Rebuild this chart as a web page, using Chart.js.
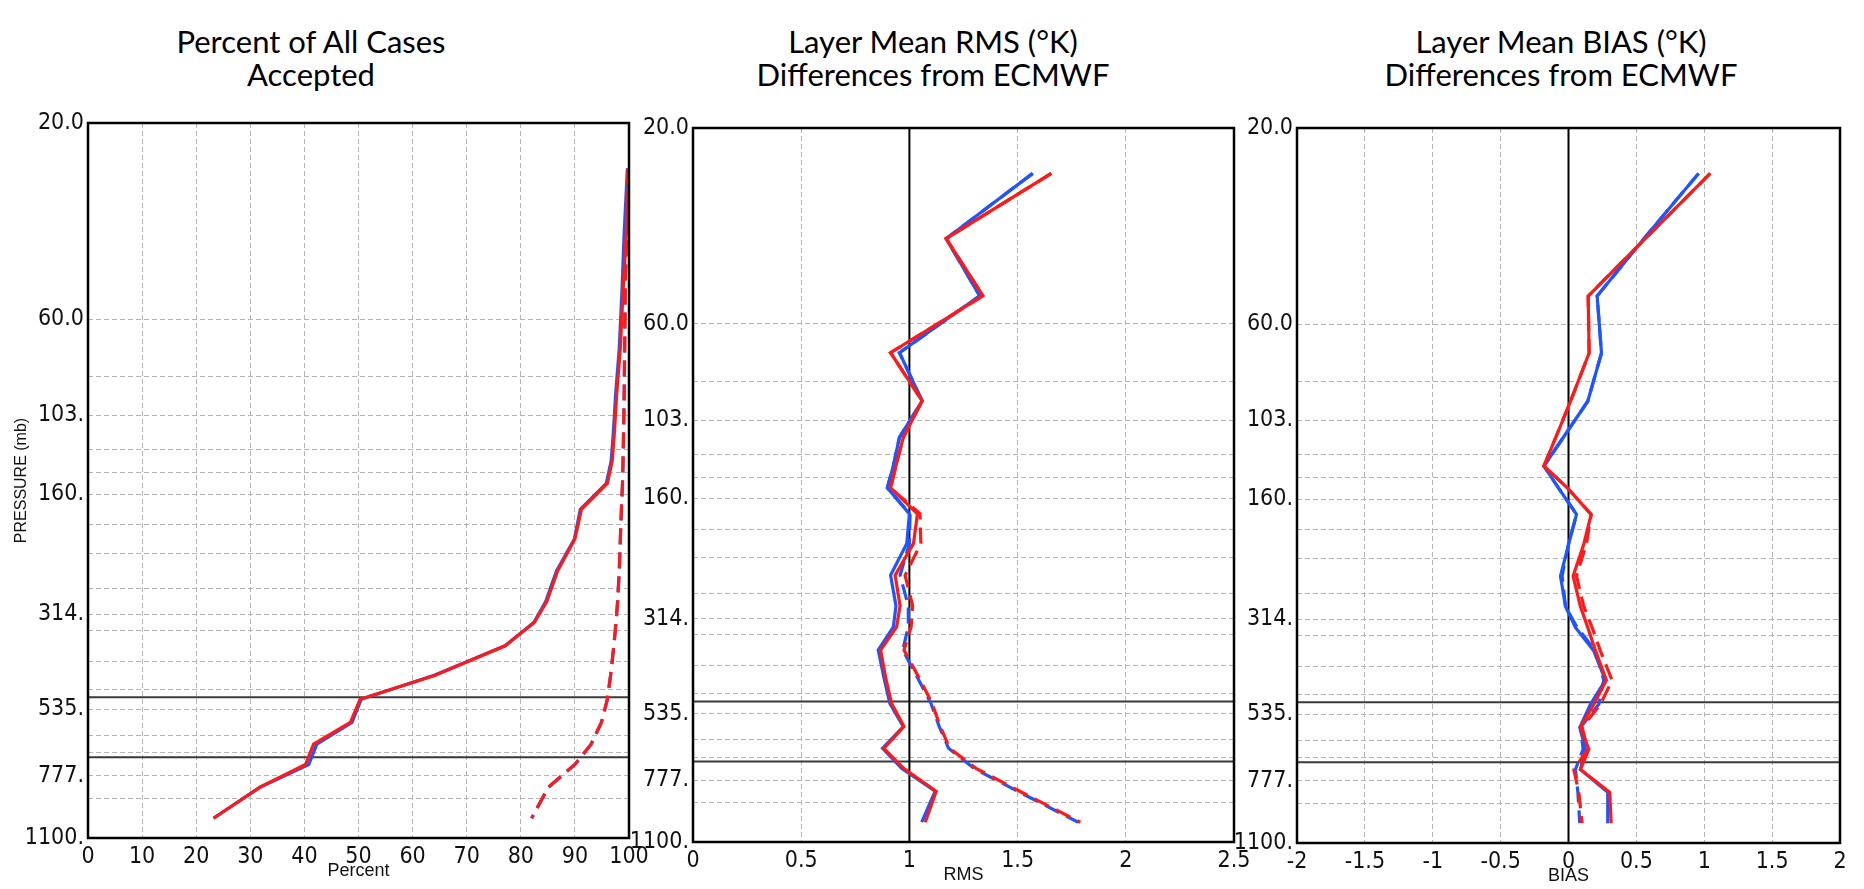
<!DOCTYPE html>
<html>
<head>
<meta charset="utf-8">
<title>Layer profiles vs ECMWF</title>
<script src="https://cdn.jsdelivr.net/npm/chart.js@4.4.1/dist/chart.umd.min.js"></script>
<style>
    body {
        margin: 0;
        width: 1864px;
        height: 889px;
        overflow: hidden;
        position: relative;
        background: #fff;
    }
    canvas {
        position: absolute;
        left: 0;
        top: 0;
    }
    .title {
        position: absolute;
        top: 25px;
        transform: translateX(-50%);
        text-align: center;
        white-space: nowrap;
        font-family: Lato, 'Open Sans', sans-serif;
        font-size: 31px;
        line-height: 33px;
        color: #000;
    }
</style>
</head>
<body>
<div class="title" style="left:311px">Percent of All Cases<br>Accepted</div>
<div class="title" style="left:933px">Layer Mean RMS (°K)<br>Differences from ECMWF</div>
<div class="title" style="left:1561px">Layer Mean BIAS (°K)<br>Differences from ECMWF</div>
<canvas id="percentChart" width="1864" height="889"></canvas>
<canvas id="rmsChart" width="1864" height="889"></canvas>
<canvas id="biasChart" width="1864" height="889"></canvas>
<script>
// Layer mid-point pressures (mb), one per profile value
const pressureLevels = [25.8, 37.2, 51.3, 70.6, 92.5, 113.5, 133.0, 150.7, 174.4, 205.8, 246.3,
    292.3, 328.7, 374.7, 441.7, 505.7, 575.5, 650.2, 728.5, 827.4, 984.5];

// Layer boundaries (dashed grid) and the labelled ones
const gridPressures = [20, 60, 83, 103, 125, 142, 160, 190, 223, 272, 314, 344, 408, 478, 535, 619, 683, 777, 881, 1100];
const labelledPressures = [20, 60, 103, 160, 314, 535, 777, 1100];
const pressureLabels = ['20.0', '60.0', '103.', '160.', '314.', '535.', '777.', '1100.'];
const refPressures = [500, 700];

// Percent of cases accepted (solid) and the all-cases curve (dashed)
const percentBlue = [99.7, 99.1, 98.7, 98.2, 97.5, 97.1, 96.7, 95.8, 91.0, 89.9, 86.6, 84.6, 82.4, 77.1, 64.0, 50.5, 48.8, 42.3, 40.8, 31.8, 23.2];
const percentRed = [100.0, 99.5, 98.9, 98.4, 97.7, 97.3, 96.9, 96.0, 91.2, 90.0, 86.8, 84.8, 82.5, 77.1, 64.2, 50.3, 48.5, 41.7, 40.2, 31.8, 23.2];
const percentAllBlue = [99.8, 99.5, 99.3, 99.2, 99.1, 99.0, 98.9, 98.8, 98.6, 98.4, 98.2, 97.9, 97.6, 97.2, 96.6, 96.0, 94.9, 93.0, 90.0, 85.1, 82.0];
const percentAllRed = [99.8, 99.5, 99.3, 99.2, 99.1, 99.0, 98.9, 98.8, 98.6, 98.4, 98.2, 97.9, 97.6, 97.2, 96.6, 96.0, 94.9, 93.0, 90.0, 85.1, 82.0];

// Layer mean RMS differences
const rmsBlue = [1.570, 1.170, 1.325, 0.954, 1.059, 0.954, 0.926, 0.898, 1.000, 0.988, 0.913, 0.938, 0.926, 0.856, 0.884, 0.910, 0.972, 0.876, 0.965, 1.119, 1.057];
const rmsRed = [1.656, 1.170, 1.340, 0.913, 1.059, 0.972, 0.938, 0.913, 1.037, 1.019, 0.934, 0.957, 0.941, 0.867, 0.892, 0.918, 0.975, 0.882, 0.975, 1.124, 1.073];
const rmsAllBlue = [1.570, 1.170, 1.325, 0.954, 1.059, 0.954, 0.926, 0.898, 1.003, 1.000, 0.957, 0.995, 0.995, 0.969, 1.042, 1.100, 1.138, 1.181, 1.300, 1.500, 1.780];
const rmsAllRed = [1.656, 1.170, 1.340, 0.913, 1.059, 0.972, 0.938, 0.913, 1.049, 1.053, 0.980, 1.015, 1.008, 0.975, 1.049, 1.105, 1.143, 1.186, 1.310, 1.510, 1.790];

// Layer mean BIAS differences
const biasBlue = [0.958, 0.555, 0.211, 0.243, 0.142, -0.040, -0.181, -0.072, 0.059, 0.002, -0.059, -0.022, 0.051, 0.186, 0.272, 0.162, 0.083, 0.125, 0.088, 0.289, 0.289];
const biasRed = [1.044, 0.565, 0.145, 0.152, 0.015, -0.095, -0.181, -0.005, 0.167, 0.113, 0.034, 0.088, 0.142, 0.199, 0.279, 0.186, 0.088, 0.150, 0.088, 0.304, 0.314];
const biasAllBlue = [0.958, 0.555, 0.211, 0.243, 0.142, -0.040, -0.181, -0.072, 0.059, 0.000, -0.047, -0.022, 0.064, 0.199, 0.260, 0.223, 0.088, 0.108, 0.051, 0.069, 0.083];
const biasAllRed = [1.044, 0.565, 0.145, 0.152, 0.015, -0.095, -0.181, -0.005, 0.167, 0.132, 0.059, 0.113, 0.174, 0.235, 0.321, 0.235, 0.100, 0.142, 0.039, 0.076, 0.100];

// x axis ranges: [min, max, step]
const percentRange = [0, 100, 10];
const rmsRange = [0, 2.5, 0.5];
const biasRange = [-2, 2, 0.5];

const BLUE = '#1f55ff';
const RED = '#ff1a1a';
const GRID = '#b5b5b5';
const tickFont = { family: "'Liberation Sans Narrow', 'DejaVu Sans Condensed', 'Liberation Sans', sans-serif", size: 23 };
const axisTitleFont = { family: "'Liberation Sans Narrow', 'Liberation Sans', sans-serif", size: 18 };

// Frame box plus the solid reference lines
const refLinesPlugin = {
    id: 'refLines',
    beforeDatasetsDraw(chart, args, opts) {
        const { ctx, chartArea, scales } = chart;
        ctx.save();
        ctx.beginPath();
        ctx.rect(chartArea.left, chartArea.top, chartArea.width, chartArea.height);
        ctx.clip();
        ctx.strokeStyle = '#3a3a3a';
        ctx.lineWidth = 2;
        refPressures.forEach(p => {
            const y = scales.y.getPixelForValue(p);
            ctx.beginPath();
            ctx.moveTo(chartArea.left, y);
            ctx.lineTo(chartArea.right, y);
            ctx.stroke();
        });
        if (opts.xLine !== undefined) {
            const x = scales.x.getPixelForValue(opts.xLine);
            ctx.strokeStyle = '#000';
            ctx.beginPath();
            ctx.moveTo(x, chartArea.top);
            ctx.lineTo(x, chartArea.bottom);
            ctx.stroke();
        }
        ctx.restore();
    },
    afterDraw(chart) {
        const { ctx, chartArea } = chart;
        ctx.save();
        ctx.strokeStyle = '#000';
        ctx.lineWidth = 2.5;
        ctx.strokeRect(chartArea.left, chartArea.top, chartArea.width, chartArea.height);
        ctx.restore();
    }
};

function profile(values, color, dashed, order) {
    return {
        data: values.map((v, i) => ({ x: v, y: pressureLevels[i] })),
        borderColor: color,
        borderWidth: 3.2,
        borderDash: dashed ? [16, 8] : [],
        pointRadius: 0,
        tension: 0,
        fill: false,
        order: order
    };
}

function makePanel(id, box, range, xTitle, yTitle, xLine, series) {
    const yWidth = 76;
    const xHeight = 44;
    new Chart(document.getElementById(id), {
        type: 'line',
        data: {
            datasets: [
                profile(series[0], BLUE, false, 2),
                profile(series[1], RED, false, 0),
                profile(series[2], BLUE, true, 3),
                profile(series[3], RED, true, 1)
            ]
        },
        options: {
            responsive: false,
            animation: false,
            events: [],
            layout: {
                autoPadding: false,
                padding: {
                    left: box.left - yWidth,
                    right: 1864 - box.right,
                    top: box.top,
                    bottom: 889 - box.bottom - xHeight
                }
            },
            plugins: {
                legend: { display: false },
                tooltip: { enabled: false },
                refLines: { xLine: xLine }
            },
            scales: {
                x: {
                    type: 'linear',
                    min: range[0],
                    max: range[1],
                    afterFit: (scale) => { scale.height = xHeight; },
                    ticks: {
                        stepSize: range[2],
                        autoSkip: false,
                        maxRotation: 0,
                        padding: 5,
                        font: tickFont,
                        color: '#111',
                        // plain numbers: 1 not 1.0
                        callback: (value) => String(Number(value.toFixed(2)))
                    },
                    grid: { color: GRID, lineWidth: 1, drawTicks: false },
                    border: { display: false, dash: [5, 3] },
                    title: { display: true, text: xTitle, font: axisTitleFont, color: '#111', padding: 0 }
                },
                y: {
                    type: 'logarithmic',
                    reverse: true,
                    min: 20,
                    max: 1100,
                    afterFit: (scale) => { scale.width = yWidth; },
                    afterBuildTicks: (scale) => {
                        scale.ticks = gridPressures.map(v => ({ value: v }));
                    },
                    ticks: {
                        autoSkip: false,
                        padding: 4,
                        font: tickFont,
                        color: '#111',
                        callback: (value) => {
                            const i = labelledPressures.indexOf(value);
                            return i >= 0 ? pressureLabels[i] : '';
                        }
                    },
                    grid: { color: GRID, lineWidth: 1, drawTicks: false },
                    border: { display: false, dash: [5, 3] },
                    title: {
                        display: !!yTitle,
                        text: yTitle,
                        font: { family: "'Liberation Sans', sans-serif", size: 16 },
                        color: '#111',
                        padding: 0
                    }
                }
            }
        },
        plugins: [refLinesPlugin]
    });
}

makePanel('percentChart', { left: 88, right: 629, top: 123, bottom: 838 }, percentRange, 'Percent', 'PRESSURE (mb)', undefined,
    [percentBlue, percentRed, percentAllBlue, percentAllRed]);
makePanel('rmsChart', { left: 693, right: 1234, top: 128, bottom: 842 }, rmsRange, 'RMS', '', 1,
    [rmsBlue, rmsRed, rmsAllBlue, rmsAllRed]);
makePanel('biasChart', { left: 1297, right: 1840, top: 128, bottom: 843 }, biasRange, 'BIAS', '', 0,
    [biasBlue, biasRed, biasAllBlue, biasAllRed]);
</script>
</body>
</html>
